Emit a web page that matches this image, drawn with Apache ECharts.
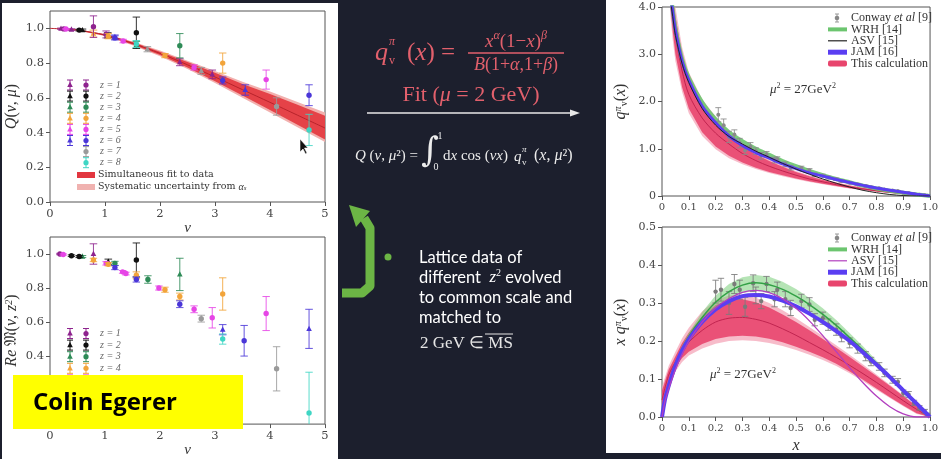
<!DOCTYPE html>
<html>
<head>
<meta charset="utf-8">
<script src="https://cdn.jsdelivr.net/npm/echarts@6/dist/echarts.min.js"></script>
<style>
html, body { margin: 0; padding: 0; background: #1c1f2d; }
#main { width: 941px; height: 459px; }
</style>
</head>
<body>
<div id="main"></div>
<script>
// ---- left plots: lattice points, rows are [nu, value, error, z]
const zNames = ['z = 1', 'z = 2', 'z = 3', 'z = 4', 'z = 5', 'z = 6', 'z = 7', 'z = 8']
const zColors = ['#8e238e', '#111111', '#2e8b57', '#f2a43a', '#e645e6', '#4a36d8', '#9a9a9a', '#3fd6c4']

const qTri = [
  [0.20, 0.998, 0.004, 1], [0.39, 0.993, 0.005, 1], [0.59, 0.99, 0.006, 2],
  [0.79, 0.97, 0.02, 4], [1.05, 0.96, 0.015, 2], [1.18, 0.95, 0.012, 6],
  [1.57, 0.905, 0.02, 3], [1.77, 0.88, 0.015, 7], [2.36, 0.805, 0.02, 1],
  [2.75, 0.755, 0.02, 7], [2.95, 0.735, 0.025, 1], [3.55, 0.645, 0.03, 6]
]
const qCirc = [
  [0.25, 0.997, 0.003, 1], [0.29, 0.996, 0.003, 5], [0.53, 0.99, 0.005, 2],
  [0.79, 1.01, 0.062, 1], [1.02, 0.965, 0.02, 1], [1.06, 0.955, 0.015, 4],
  [1.18, 0.945, 0.012, 6], [1.33, 0.927, 0.01, 5], [1.57, 0.975, 0.09, 2],
  [1.57, 0.91, 0.02, 8], [2.09, 0.843, 0.012, 4], [2.36, 0.90, 0.07, 3],
  [2.62, 0.775, 0.015, 5], [3.14, 0.80, 0.058, 4], [3.14, 0.70, 0.02, 6],
  [3.93, 0.705, 0.055, 5], [4.12, 0.55, 0.05, 7], [4.71, 0.615, 0.06, 6],
  [4.71, 0.415, 0.09, 8]
]
const reTri = [
  [0.59, 0.985, 0.006, 3], [0.79, 1.0, 0.06, 1], [1.06, 0.955, 0.015, 2],
  [2.36, 0.88, 0.095, 3], [3.14, 0.555, 0.03, 6], [4.71, 0.56, 0.115, 6]
]
const reCirc = [
  [0.18, 1.0, 0.004, 1], [0.24, 0.997, 0.004, 5], [0.39, 0.99, 0.005, 2],
  [0.53, 0.985, 0.006, 2], [0.79, 0.965, 0.01, 4], [1.02, 0.945, 0.01, 5],
  [1.06, 0.94, 0.01, 4], [1.18, 0.945, 0.012, 3], [1.18, 0.92, 0.012, 6],
  [1.32, 0.895, 0.008, 5], [1.38, 0.885, 0.008, 5], [1.57, 0.965, 0.1, 2],
  [1.57, 0.875, 0.02, 4], [1.57, 0.85, 0.015, 6], [1.78, 0.85, 0.022, 3],
  [1.98, 0.80, 0.012, 5], [2.09, 0.79, 0.015, 4], [2.36, 0.75, 0.02, 4],
  [2.36, 0.705, 0.02, 6], [2.62, 0.675, 0.02, 5], [2.75, 0.62, 0.02, 7],
  [2.95, 0.625, 0.06, 5], [3.14, 0.765, 0.095, 4], [3.14, 0.50, 0.03, 8],
  [3.53, 0.49, 0.09, 6], [3.93, 0.65, 0.1, 5], [4.12, 0.325, 0.13, 7],
  [4.71, 0.065, 0.24, 8]
]

// fit band of the top-left plot
const nuBand = [0, 0.5, 1, 1.5, 2, 2.5, 3, 3.5, 4, 4.5, 5]
const fitQ = [1.0, 0.99, 0.962, 0.914, 0.856, 0.79, 0.72, 0.647, 0.574, 0.5, 0.426]
const fitHi = [1.0, 0.992, 0.966, 0.921, 0.866, 0.806, 0.744, 0.68, 0.622, 0.56, 0.497]
const fitLo = [1.0, 0.988, 0.958, 0.907, 0.846, 0.774, 0.696, 0.614, 0.53, 0.445, 0.36]
const sysHi = [1.0, 0.993, 0.968, 0.925, 0.872, 0.814, 0.755, 0.693, 0.636, 0.576, 0.515]
const sysLo = [1.0, 0.987, 0.956, 0.903, 0.84, 0.766, 0.685, 0.6, 0.515, 0.43, 0.345]

// ---- top-right: q_v(x)
const xQ = [0.03, 0.04, 0.05, 0.075, 0.1, 0.15, 0.2, 0.25, 0.3, 0.35, 0.4, 0.45, 0.5, 0.55, 0.6, 0.65, 0.7, 0.75, 0.8, 0.85, 0.9, 0.95, 1.0]
const wrhQ = [4.4, 3.95, 3.55, 2.9, 2.5, 1.98, 1.62, 1.35, 1.16, 1.0, 0.87, 0.74, 0.63, 0.53, 0.44, 0.36, 0.29, 0.22, 0.16, 0.11, 0.07, 0.03, 0.0]
const jamQ = [4.3, 3.9, 3.5, 2.85, 2.45, 1.9, 1.55, 1.27, 1.07, 0.92, 0.8, 0.68, 0.58, 0.49, 0.42, 0.35, 0.285, 0.225, 0.17, 0.12, 0.078, 0.037, 0.0]
const asvQ = [4.2, 3.8, 3.4, 2.8, 2.4, 1.85, 1.5, 1.26, 1.1, 0.95, 0.82, 0.69, 0.57, 0.46, 0.36, 0.27, 0.19, 0.12, 0.07, 0.032, 0.01, 0.0, 0.0]
const calcQ = [4.5, 3.9, 3.4, 2.65, 2.15, 1.65, 1.33, 1.1, 0.9, 0.75, 0.63, 0.53, 0.44, 0.36, 0.3, 0.24, 0.19, 0.15, 0.11, 0.08, 0.05, 0.02, 0.0]
const calcQHi = [4.9, 4.3, 3.8, 3.0, 2.5, 1.95, 1.6, 1.3, 1.06, 0.88, 0.74, 0.62, 0.51, 0.42, 0.34, 0.28, 0.22, 0.17, 0.13, 0.095, 0.06, 0.03, 0.0]
const calcQLo = [4.1, 3.5, 3.0, 2.3, 1.85, 1.35, 1.05, 0.85, 0.71, 0.6, 0.51, 0.44, 0.37, 0.31, 0.26, 0.21, 0.165, 0.13, 0.095, 0.065, 0.04, 0.015, 0.0]
const calcQSysHi = [5.1, 4.5, 4.0, 3.15, 2.62, 2.05, 1.68, 1.37, 1.11, 0.92, 0.77, 0.645, 0.53, 0.44, 0.355, 0.29, 0.23, 0.178, 0.136, 0.1, 0.064, 0.032, 0.0]
const calcQSysLo = [3.9, 3.3, 2.85, 2.2, 1.75, 1.27, 0.99, 0.8, 0.67, 0.57, 0.485, 0.42, 0.355, 0.295, 0.248, 0.2, 0.157, 0.123, 0.09, 0.061, 0.037, 0.013, 0.0]
// Conway et al, rows are [x, q, error]
const conwayQ = [
  [0.21, 1.72, 0.15], [0.23, 1.5, 0.13], [0.25, 1.25, 0.12], [0.27, 1.3, 0.1], [0.29, 1.12, 0.1],
  [0.31, 0.97, 0.09], [0.33, 1.05, 0.08], [0.35, 0.95, 0.07], [0.37, 0.85, 0.07], [0.39, 0.88, 0.06],
  [0.42, 0.76, 0.06], [0.43, 0.78, 0.05], [0.46, 0.67, 0.05], [0.48, 0.6, 0.05], [0.52, 0.59, 0.04],
  [0.55, 0.54, 0.04], [0.57, 0.45, 0.035], [0.6, 0.43, 0.03], [0.62, 0.39, 0.03], [0.65, 0.355, 0.025],
  [0.67, 0.315, 0.025], [0.7, 0.28, 0.02], [0.73, 0.245, 0.02], [0.76, 0.21, 0.02], [0.78, 0.187, 0.018],
  [0.81, 0.164, 0.016], [0.83, 0.14, 0.015], [0.86, 0.114, 0.013], [0.88, 0.105, 0.012], [0.9, 0.07, 0.01],
  [0.92, 0.064, 0.01], [0.94, 0.039, 0.008], [0.96, 0.025, 0.007], [0.98, 0.015, 0.006], [0.99, 0.006, 0.005]
]

// ---- bottom-right: x q_v(x)
const xXQ = [0, 0.01, 0.02, 0.03, 0.05, 0.075, 0.1, 0.15, 0.2, 0.25, 0.3, 0.35, 0.4, 0.45, 0.5, 0.55, 0.6, 0.65, 0.7, 0.75, 0.8, 0.85, 0.9, 0.95, 1.0]
const wrhXQ = [0, 0.045, 0.075, 0.1, 0.14, 0.18, 0.212, 0.262, 0.302, 0.33, 0.347, 0.353, 0.348, 0.336, 0.318, 0.296, 0.27, 0.241, 0.209, 0.176, 0.141, 0.106, 0.07, 0.035, 0.0]
const wrhXQHi = [0, 0.046, 0.077, 0.103, 0.145, 0.188, 0.222, 0.276, 0.32, 0.35, 0.368, 0.374, 0.369, 0.356, 0.337, 0.313, 0.286, 0.255, 0.221, 0.186, 0.149, 0.112, 0.074, 0.037, 0.0]
const wrhXQLo = [0, 0.044, 0.073, 0.097, 0.135, 0.172, 0.202, 0.248, 0.284, 0.31, 0.326, 0.332, 0.327, 0.316, 0.299, 0.279, 0.254, 0.227, 0.197, 0.166, 0.133, 0.1, 0.066, 0.033, 0.0]
const jamXQ = [0, 0.042, 0.07, 0.094, 0.135, 0.175, 0.205, 0.25, 0.283, 0.305, 0.318, 0.321, 0.317, 0.306, 0.291, 0.272, 0.25, 0.226, 0.2, 0.17, 0.138, 0.105, 0.07, 0.035, 0.0]
const asvXQ = [0, 0.038, 0.063, 0.085, 0.125, 0.166, 0.2, 0.25, 0.287, 0.312, 0.328, 0.333, 0.327, 0.311, 0.286, 0.253, 0.214, 0.172, 0.13, 0.09, 0.055, 0.027, 0.008, 0.0, 0.0]
const xCalc = [0, 0.025, 0.05, 0.075, 0.1, 0.15, 0.2, 0.25, 0.3, 0.35, 0.4, 0.45, 0.5, 0.55, 0.6, 0.65, 0.7, 0.75, 0.8, 0.85, 0.9, 0.95, 1.0]
const calcXQ = [0.045, 0.11, 0.145, 0.175, 0.197, 0.228, 0.25, 0.26, 0.262, 0.257, 0.247, 0.232, 0.215, 0.196, 0.177, 0.157, 0.136, 0.114, 0.091, 0.067, 0.043, 0.02, 0.0]
const calcXQHi = [0.07, 0.125, 0.16, 0.195, 0.222, 0.265, 0.295, 0.308, 0.31, 0.302, 0.288, 0.27, 0.25, 0.228, 0.205, 0.182, 0.158, 0.133, 0.108, 0.082, 0.055, 0.028, 0.003]
const calcXQLo = [0.02, 0.095, 0.13, 0.155, 0.172, 0.192, 0.205, 0.212, 0.214, 0.212, 0.206, 0.197, 0.185, 0.172, 0.157, 0.14, 0.12, 0.098, 0.075, 0.052, 0.03, 0.01, 0.0]
const calcXQSysHi = [0.08, 0.135, 0.172, 0.207, 0.235, 0.278, 0.307, 0.32, 0.322, 0.314, 0.3, 0.281, 0.26, 0.237, 0.213, 0.189, 0.164, 0.138, 0.112, 0.085, 0.057, 0.029, 0.004]
const calcXQSysLo = [0.01, 0.085, 0.12, 0.145, 0.162, 0.18, 0.193, 0.2, 0.202, 0.2, 0.195, 0.187, 0.176, 0.164, 0.15, 0.134, 0.115, 0.094, 0.072, 0.05, 0.028, 0.008, 0.0]
const conwayXQ = [
  [0.2, 0.33, 0.03], [0.22, 0.335, 0.03], [0.25, 0.30, 0.03], [0.27, 0.35, 0.025], [0.29, 0.335, 0.025],
  [0.31, 0.29, 0.025], [0.34, 0.352, 0.022], [0.35, 0.32, 0.022], [0.37, 0.305, 0.02], [0.39, 0.35, 0.02],
  [0.42, 0.31, 0.02], [0.43, 0.335, 0.02], [0.46, 0.31, 0.02], [0.48, 0.287, 0.02], [0.52, 0.305, 0.018],
  [0.55, 0.296, 0.018], [0.57, 0.256, 0.016], [0.6, 0.26, 0.016], [0.62, 0.243, 0.015], [0.65, 0.23, 0.015],
  [0.67, 0.212, 0.014], [0.7, 0.195, 0.013], [0.73, 0.18, 0.012], [0.76, 0.16, 0.012], [0.78, 0.146, 0.011],
  [0.81, 0.133, 0.01], [0.83, 0.116, 0.01], [0.86, 0.098, 0.009], [0.88, 0.092, 0.009], [0.9, 0.063, 0.008],
  [0.92, 0.059, 0.008], [0.94, 0.037, 0.007], [0.96, 0.024, 0.006], [0.98, 0.015, 0.005], [0.99, 0.006, 0.004]
]

const tickLeftY = [0, 0.2, 0.4, 0.6, 0.8, 1.0]
const serif = 'Liberation Serif'
const tickFont = 'DejaVu Serif'

// ---- helpers
function triPoints(x, y, r) {
  return [[x, y - r * 1.15], [x - r, y + r * 0.75], [x + r, y + r * 0.75]]
}

function errorBarSeries(gi, data, shape, colorFn, size) {
  return {
    type: 'custom',
    xAxisIndex: gi,
    yAxisIndex: gi,
    clip: true,
    silent: true,
    z: 5,
    data: data,
    encode: { x: 0, y: 1 },
    renderItem: function(params, api) {
      const x = api.value(0)
      const y = api.value(1)
      const e = api.value(2)
      const col = colorFn(api.value(3))
      const c = api.coord([x, y])
      const t = api.coord([x, y + e])
      const b = api.coord([x, y - e])
      const cap = size + 1
      const line = { stroke: col, lineWidth: 1, opacity: 0.85 }
      const children = [
        { type: 'line', shape: { x1: c[0], y1: t[1], x2: c[0], y2: b[1] }, style: line },
        { type: 'line', shape: { x1: c[0] - cap, y1: t[1], x2: c[0] + cap, y2: t[1] }, style: line },
        { type: 'line', shape: { x1: c[0] - cap, y1: b[1], x2: c[0] + cap, y2: b[1] }, style: line }
      ]
      if (shape === 'tri') {
        children.push({ type: 'polygon', shape: { points: triPoints(c[0], c[1], size) }, style: { fill: col } })
      } else {
        children.push({ type: 'circle', shape: { cx: c[0], cy: c[1], r: size }, style: { fill: col } })
      }
      return { type: 'group', children: children }
    }
  }
}

function bandSeries(gi, xs, lo, hi, color, z) {
  return {
    type: 'custom',
    xAxisIndex: gi,
    yAxisIndex: gi,
    clip: true,
    silent: true,
    z: z,
    data: xs.map((x, i) => [x, lo[i], hi[i]]),
    encode: { x: 0, y: [1, 2] },
    renderItem: function(params, api) {
      if (params.dataIndex !== 0) return null
      const pts = []
      for (let i = 0; i < xs.length; i++) pts.push(api.coord([xs[i], hi[i]]))
      for (let i = xs.length - 1; i >= 0; i--) pts.push(api.coord([xs[i], lo[i]]))
      return { type: 'polygon', shape: { points: pts }, style: { fill: color } }
    }
  }
}

function lineSeries(gi, xs, ys, color, width, z) {
  return {
    type: 'line',
    xAxisIndex: gi,
    yAxisIndex: gi,
    data: xs.map((x, i) => [x, ys[i]]),
    showSymbol: false,
    smooth: 0.3,
    silent: true,
    clip: true,
    z: z,
    lineStyle: { color: color, width: width }
  }
}

function valAxis(gi, min, max, interval, fmt, fontSize, extra) {
  return Object.assign({
    type: 'value',
    gridIndex: gi,
    min: min,
    max: max,
    interval: interval,
    axisLine: { show: false },
    axisTick: { show: true, length: 4, lineStyle: { color: '#555' } },
    splitLine: { show: false },
    axisLabel: { formatter: fmt, fontFamily: tickFont, fontSize: fontSize, color: '#444', margin: 6 },
    nameLocation: 'middle'
  }, extra || {})
}

const nameRich = {
  i: { fontFamily: serif, fontStyle: 'italic', fontSize: 16, color: '#333' },
  n: { fontFamily: serif, fontSize: 16, color: '#333' },
  s: { fontFamily: serif, fontStyle: 'italic', fontSize: 10, color: '#333', verticalAlign: 'top' },
  b: { fontFamily: serif, fontSize: 10, color: '#333', verticalAlign: 'bottom' }
}

const oneDec = v => v.toFixed(1)
const zeroOrDec = v => (v === 0 ? '0' : v.toFixed(1))

// ---- decorations (panels, legends, slide text)
const graphics = []
graphics.push({ type: 'rect', z: -10, shape: { x: 2, y: 3, width: 336, height: 456 }, style: { fill: '#ffffff' } })
graphics.push({ type: 'rect', z: -10, shape: { x: 606, y: 0, width: 335, height: 453 }, style: { fill: '#ffffff' } })

function legendMarker(x, y, col, shape) {
  const st = { stroke: col, lineWidth: 1 }
  const els = [
    { type: 'line', shape: { x1: x, y1: y - 5, x2: x, y2: y + 5 }, style: st },
    { type: 'line', shape: { x1: x - 3, y1: y - 5, x2: x + 3, y2: y - 5 }, style: st },
    { type: 'line', shape: { x1: x - 3, y1: y + 5, x2: x + 3, y2: y + 5 }, style: st }
  ]
  if (shape === 'tri') els.push({ type: 'polygon', shape: { points: triPoints(x, y, 2.8) }, style: { fill: col } })
  else els.push({ type: 'circle', shape: { cx: x, cy: y, r: 2.6 }, style: { fill: col } })
  return els
}

function zLegend(x0, y0, step) {
  for (let i = 0; i < zNames.length; i++) {
    const y = y0 + i * step
    if (i < 6) graphics.push(...legendMarker(x0, y, zColors[i], 'tri'))
    graphics.push(...legendMarker(x0 + 16, y, zColors[i], 'circ'))
    graphics.push({ type: 'text', style: { text: zNames[i], x: x0 + 30, y: y, verticalAlign: 'middle', fill: '#666', fontFamily: serif, fontStyle: 'italic', fontSize: 10 } })
  }
}
zLegend(70, 85, 11.1)
graphics.push({ type: 'rect', shape: { x: 77, y: 172, width: 18, height: 6 }, style: { fill: '#e2363f' } })
graphics.push({ type: 'text', style: { text: 'Simultaneous fit to data', x: 98, y: 175, verticalAlign: 'middle', fill: '#333', fontFamily: tickFont, fontSize: 9.5 } })
graphics.push({ type: 'rect', shape: { x: 77, y: 184, width: 18, height: 6 }, style: { fill: '#f0b2b0' } })
graphics.push({
  type: 'text',
  style: {
    text: '{n|Systematic uncertainty from }{i|α}{b|s}', x: 98, y: 187, verticalAlign: 'middle',
    rich: {
      n: { fill: '#333', fontFamily: tickFont, fontSize: 9.5 },
      i: { fill: '#333', fontFamily: serif, fontStyle: 'italic', fontSize: 10 },
      b: { fill: '#333', fontFamily: serif, fontStyle: 'italic', fontSize: 7, verticalAlign: 'bottom' }
    }
  }
})
zLegend(70, 333.5, 11.6)
// mouse pointer captured in the slide photo
graphics.push({ type: 'polygon', z: 50, shape: { points: [[300, 139], [300, 152], [303, 149], [305.5, 154], [307, 153], [304.5, 148], [308, 148]] }, style: { fill: '#111', stroke: '#fff', lineWidth: 0.6 } })

// right legends
function rightLegend(y0, asvColor) {
  const ys = [0, 11.4, 22.8, 34.2, 45.6].map(d => y0 + d)
  const tx = 851
  graphics.push(...[
    { type: 'line', shape: { x1: 837, y1: ys[0] - 4, x2: 837, y2: ys[0] + 4 }, style: { stroke: '#999', lineWidth: 1 } },
    { type: 'line', shape: { x1: 835, y1: ys[0] - 4, x2: 839, y2: ys[0] - 4 }, style: { stroke: '#999', lineWidth: 1 } },
    { type: 'line', shape: { x1: 835, y1: ys[0] + 4, x2: 839, y2: ys[0] + 4 }, style: { stroke: '#999', lineWidth: 1 } },
    { type: 'circle', shape: { cx: 837, cy: ys[0], r: 2.3 }, style: { fill: '#888' } },
    { type: 'rect', shape: { x: 828, y: ys[1] - 2, width: 19, height: 4 }, style: { fill: '#6cc56f' } },
    { type: 'line', shape: { x1: 828, y1: ys[2], x2: 847, y2: ys[2] }, style: { stroke: asvColor, lineWidth: 1.2 } },
    { type: 'rect', shape: { x: 828, y: ys[3] - 2.5, width: 19, height: 5 }, style: { fill: '#5a3ef2' } },
    { type: 'rect', shape: { x: 828, y: ys[4] - 3, width: 19, height: 6, r: 2 }, style: { fill: '#e8456d' } }
  ])
  const base = { fill: '#333', fontFamily: serif, fontSize: 12 }
  graphics.push({
    type: 'text',
    style: {
      text: '{n|Conway }{i|et al}{n| [9]}', x: tx, y: ys[0], verticalAlign: 'middle',
      rich: { n: base, i: Object.assign({}, base, { fontStyle: 'italic' }) }
    }
  })
  const labels = ['WRH [14]', 'ASV [15]', 'JAM [16]', 'This calculation']
  labels.forEach((t, i) => {
    graphics.push({ type: 'text', style: Object.assign({ text: t, x: tx, y: ys[i + 1], verticalAlign: 'middle' }, base) })
  })
}
rightLegend(18, '#222')
rightLegend(238, '#b23fbf')

function muLabel(x, y) {
  graphics.push({
    type: 'text',
    style: {
      text: '{i|μ}{s|2}{n| = 27GeV}{s|2}', x: x, y: y, verticalAlign: 'middle',
      rich: {
        i: { fill: '#333', fontFamily: serif, fontStyle: 'italic', fontSize: 13, lineHeight: 16 },
        n: { fill: '#333', fontFamily: serif, fontSize: 13, lineHeight: 16 },
        s: { fill: '#333', fontFamily: serif, fontSize: 8, verticalAlign: 'top' }
      }
    }
  })
}
muLabel(770, 90)
muLabel(710, 375)

// middle slide text
const red = '#e2606c'
const mrich = (col, size) => ({
  i: { fill: col, fontFamily: serif, fontStyle: 'italic', fontSize: size, lineHeight: size + 6 },
  n: { fill: col, fontFamily: serif, fontSize: size, lineHeight: size + 6 },
  s: { fill: col, fontFamily: serif, fontStyle: 'italic', fontSize: Math.round(size * 0.65), verticalAlign: 'top' }
})
graphics.push({ type: 'text', style: { text: 'q', x: 375, y: 53, verticalAlign: 'middle', fill: red, fontFamily: serif, fontStyle: 'italic', fontSize: 26 } })
graphics.push({ type: 'text', style: { text: 'π', x: 389, y: 42, verticalAlign: 'middle', fill: red, fontFamily: serif, fontStyle: 'italic', fontSize: 12 } })
graphics.push({ type: 'text', style: { text: 'v', x: 389, y: 61, verticalAlign: 'middle', fill: red, fontFamily: serif, fontSize: 12 } })
graphics.push({ type: 'text', style: { text: '{n|(}{i|x}{n|) =}', x: 407, y: 53, verticalAlign: 'middle', rich: mrich(red, 25) } })
graphics.push({ type: 'text', style: { text: '{i|x}{s|α}{n|(1−}{i|x}{n|)}{s|β}', x: 516, y: 42, align: 'center', verticalAlign: 'middle', rich: mrich(red, 19) } })
graphics.push({ type: 'line', shape: { x1: 468, y1: 53, x2: 564, y2: 53 }, style: { stroke: red, lineWidth: 1.5 } })
graphics.push({ type: 'text', style: { text: '{i|B}{n|(1+}{i|α}{n|,1+}{i|β}{n|)}', x: 516, y: 65, align: 'center', verticalAlign: 'middle', rich: mrich(red, 18) } })
graphics.push({ type: 'text', style: { text: '{n|Fit (}{i|μ}{n| = 2 GeV)}', x: 471, y: 95, align: 'center', verticalAlign: 'middle', rich: mrich(red, 22) } })
graphics.push({ type: 'line', shape: { x1: 367, y1: 113, x2: 572, y2: 113 }, style: { stroke: '#e8e8e8', lineWidth: 1.5 } })
graphics.push({ type: 'polygon', shape: { points: [[580, 113], [570, 109.5], [570, 116.5]] }, style: { fill: '#e8e8e8' } })

const wht = '#ececec'
graphics.push({ type: 'text', style: { text: '{i|Q}{n| (}{i|ν}{n|, }{i|μ}{n|²) =}', x: 355, y: 156, verticalAlign: 'middle', rich: mrich(wht, 15) } })
graphics.push({ type: 'text', style: { text: '∫', x: 430, y: 152, align: 'center', verticalAlign: 'middle', fill: wht, fontFamily: 'DejaVu Serif', fontSize: 34 } })
graphics.push({ type: 'text', style: { text: '1', x: 440, y: 136, align: 'center', verticalAlign: 'middle', fill: wht, fontFamily: serif, fontSize: 10 } })
graphics.push({ type: 'text', style: { text: '0', x: 436, y: 167, align: 'center', verticalAlign: 'middle', fill: wht, fontFamily: serif, fontSize: 10 } })
graphics.push({ type: 'text', style: { text: '{n|d}{i|x}{n| cos (}{i|νx}{n|)}', x: 443, y: 156, verticalAlign: 'middle', rich: mrich(wht, 15) } })
graphics.push({ type: 'text', style: { text: 'q', x: 514, y: 157, verticalAlign: 'middle', fill: wht, fontFamily: serif, fontStyle: 'italic', fontSize: 15 } })
graphics.push({ type: 'text', style: { text: 'π', x: 522, y: 150, verticalAlign: 'middle', fill: wht, fontFamily: serif, fontStyle: 'italic', fontSize: 9 } })
graphics.push({ type: 'text', style: { text: 'v', x: 522, y: 163, verticalAlign: 'middle', fill: wht, fontFamily: serif, fontSize: 9 } })
graphics.push({ type: 'text', style: { text: '{n|(}{i|x}{n|, }{i|μ}{n|²)}', x: 534, y: 156, verticalAlign: 'middle', rich: mrich(wht, 16) } })

// green bracket arrow and bullet text
const green = '#6cb545'
graphics.push({ type: 'polyline', shape: { points: [[342, 293], [362, 293], [370, 286], [370, 228], [364, 218]] }, style: { stroke: green, lineWidth: 9, fill: null, lineJoin: 'round' } })
graphics.push({ type: 'polygon', shape: { points: [[349, 205], [370, 211], [356, 227]] }, style: { fill: green } })
graphics.push({ type: 'circle', shape: { cx: 388, cy: 257, r: 3.5 }, style: { fill: green } })
const lato = { fill: '#ffffff', fontFamily: 'Lato', fontSize: 16.5 }
const slideLines = ['Lattice data of', null, 'to common scale and', 'matched to']
slideLines.forEach((t, i) => {
  if (t) graphics.push({ type: 'text', style: Object.assign({ text: t, x: 419, y: 258 + i * 20, verticalAlign: 'middle' }, lato) })
})
graphics.push({
  type: 'text',
  style: {
    text: '{n|different  }{i|z}{s|2}{n| evolved}', x: 419, y: 278, verticalAlign: 'middle',
    rich: {
      n: Object.assign({ lineHeight: 20 }, lato),
      i: { fill: '#fff', fontFamily: serif, fontStyle: 'italic', fontSize: 17, lineHeight: 20 },
      s: { fill: '#fff', fontFamily: serif, fontSize: 10, verticalAlign: 'top' }
    }
  }
})
graphics.push({ type: 'text', style: { text: '2 GeV ∈ MS', x: 420, y: 344, verticalAlign: 'middle', fill: '#e6e6e6', fontFamily: serif, fontSize: 17 } })
graphics.push({ type: 'line', shape: { x1: 485, y1: 334, x2: 513, y2: 334 }, style: { stroke: '#e6e6e6', lineWidth: 1 } })

// name tag
graphics.push({ type: 'rect', z: 100, shape: { x: 13, y: 375, width: 230, height: 54 }, style: { fill: '#ffff00' } })
graphics.push({ type: 'text', z: 101, style: { text: 'Colin Egerer', x: 33, y: 403, verticalAlign: 'middle', fill: '#000', fontFamily: 'Open Sans', fontWeight: 'bold', fontSize: 24 } })

// ---- chart
const chart = echarts.init(document.getElementById('main'), null, { renderer: 'canvas' })
const gridBase = { show: true, borderColor: '#555', borderWidth: 1, backgroundColor: 'transparent', containLabel: false }

chart.setOption({
  animation: false,
  backgroundColor: '#1c1f2d',
  grid: [
    Object.assign({ left: 50, top: 11, width: 275, height: 191 }, gridBase),
    Object.assign({ left: 50, top: 237, width: 275, height: 190 }, gridBase),
    Object.assign({ left: 662, top: 7, width: 271, height: 189 }, gridBase),
    Object.assign({ left: 662, top: 227, width: 271, height: 190 }, gridBase)
  ],
  xAxis: [
    valAxis(0, 0, 5, 1, v => String(v), 11.5, { name: 'ν', nameGap: 15, nameTextStyle: { fontFamily: serif, fontStyle: 'italic', fontSize: 15, color: '#333' } }),
    valAxis(1, 0, 5, 1, v => String(v), 11.5, { name: 'ν', nameGap: 18, nameTextStyle: { fontFamily: serif, fontStyle: 'italic', fontSize: 15, color: '#333' } }),
    valAxis(2, 0, 1, 0.1, zeroOrDec, 10),
    valAxis(3, 0, 1, 0.1, zeroOrDec, 10, { name: 'x', nameGap: 21, nameTextStyle: { fontFamily: serif, fontStyle: 'italic', fontSize: 16, color: '#333' } })
  ],
  yAxis: [
    valAxis(0, 0, 1.1, 0.2, oneDec, 11.5, {
      axisTick: { show: true, length: 4, lineStyle: { color: '#555' }, customValues: tickLeftY },
      axisLabel: { formatter: oneDec, fontFamily: tickFont, fontSize: 11.5, color: '#444', margin: 6, customValues: tickLeftY },
      name: '{i|Q}{n|(}{i|ν}{n|, }{i|μ}{n|)}', nameGap: 30, nameTextStyle: { rich: nameRich }
    }),
    valAxis(1, 0, 1.1, 0.2, oneDec, 11.5, {
      axisTick: { show: true, length: 4, lineStyle: { color: '#555' }, customValues: tickLeftY },
      axisLabel: { formatter: oneDec, fontFamily: tickFont, fontSize: 11.5, color: '#444', margin: 6, customValues: tickLeftY },
      name: '{i|Re} {n|𝔐(}{i|ν}{n|, }{i|z}{s|2}{n|)}', nameGap: 30, nameTextStyle: { rich: nameRich }
    }),
    valAxis(2, 0, 4, 1, zeroOrDec, 11, { name: '{i|q}{s|π}{b|v}{n|(}{i|x}{n|)}', nameGap: 33, nameTextStyle: { rich: nameRich } }),
    valAxis(3, 0, 0.5, 0.1, oneDec, 11, { name: '{i|x q}{s|π}{b|v}{n|(}{i|x}{n|)}', nameGap: 33, nameTextStyle: { rich: nameRich } })
  ],
  graphic: graphics,
  series: [
    // top-left
    bandSeries(0, nuBand, sysLo, sysHi, '#f2b0ae', 1),
    bandSeries(0, nuBand, fitLo, fitHi, 'rgba(226,50,58,0.88)', 2),
    lineSeries(0, nuBand, fitQ, '#b8232b', 1, 3),
    errorBarSeries(0, qTri, 'tri', z => zColors[z - 1], 2.8),
    errorBarSeries(0, qCirc, 'circ', z => zColors[z - 1], 2.7),
    // bottom-left
    errorBarSeries(1, reTri, 'tri', z => zColors[z - 1], 2.8),
    errorBarSeries(1, reCirc, 'circ', z => zColors[z - 1], 2.7),
    // top-right
    bandSeries(2, xQ, calcQSysLo, calcQSysHi, 'rgba(244,160,180,0.7)', 1),
    bandSeries(2, xQ, calcQLo, calcQHi, 'rgba(232,62,105,0.85)', 2),
    lineSeries(2, xQ, calcQ, '#c02550', 1, 3),
    lineSeries(2, xQ, wrhQ, 'rgba(108,197,111,0.9)', 4, 4),
    lineSeries(2, xQ, jamQ, '#5a3ef2', 3, 5),
    lineSeries(2, xQ, asvQ, '#222', 1, 6),
    errorBarSeries(2, conwayQ, 'circ', () => '#8a8a8a', 2),
    // bottom-right
    bandSeries(3, xCalc, calcXQSysLo, calcXQSysHi, 'rgba(244,160,180,0.7)', 1),
    bandSeries(3, xCalc, calcXQLo, calcXQHi, 'rgba(232,62,105,0.85)', 2),
    lineSeries(3, xCalc, calcXQ, '#c02550', 1, 3),
    bandSeries(3, xXQ, wrhXQLo, wrhXQHi, 'rgba(120,205,120,0.55)', 4),
    lineSeries(3, xXQ, wrhXQ, '#33a146', 1.5, 5),
    lineSeries(3, xXQ, jamXQ, '#5a3ef2', 4, 6),
    lineSeries(3, xXQ, asvXQ, '#b23fbf', 1.3, 7),
    errorBarSeries(3, conwayXQ, 'circ', () => '#7a7a7a', 2.2)
  ]
})
</script>
</body>
</html>
